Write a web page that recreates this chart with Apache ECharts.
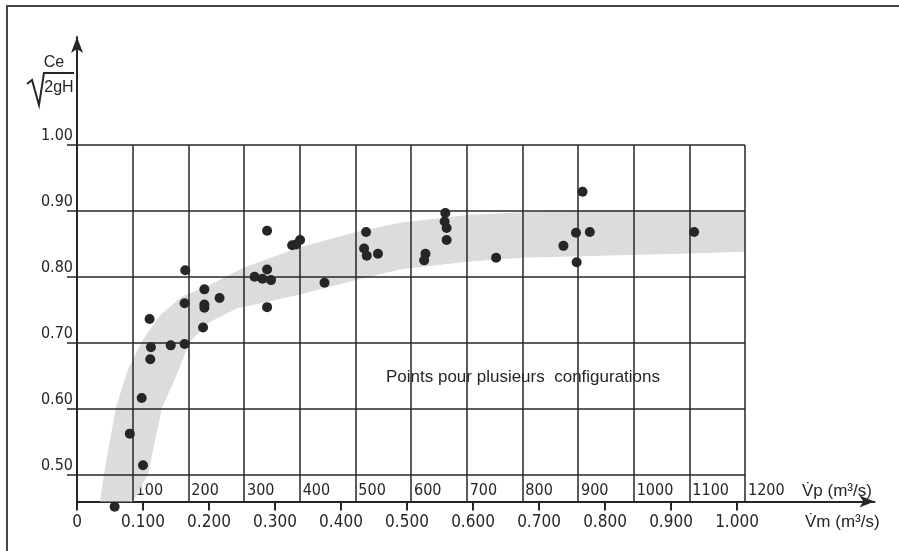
<!DOCTYPE html>
<html>
<head>
<meta charset="utf-8">
<script src="https://cdn.jsdelivr.net/npm/echarts@6/dist/echarts.min.js"></script>
<style>
  html, body { margin: 0; padding: 0; background: #fff; }
  #chart { width: 899px; height: 551px; }
</style>
</head>
<body>
<div id="chart"></div>
<script>
// axis ticks
const vmTicks = [0, 0.1, 0.2, 0.3, 0.4, 0.5, 0.6, 0.7, 0.8, 0.9, 1.0];
const vpTicks = [100, 200, 300, 400, 500, 600, 700, 800, 900, 1000, 1100, 1200];
const ceTicks = [0.5, 0.6, 0.7, 0.8, 0.9, 1.0];

// measured points [Vm (m3/s), Ce/sqrt(2gH)]
const points = [
  [0.057, 0.451], [0.080, 0.562], [0.098, 0.616], [0.100, 0.514],
  [0.110, 0.736], [0.112, 0.693], [0.111, 0.675], [0.142, 0.696],
  [0.163, 0.698], [0.164, 0.810], [0.163, 0.760], [0.193, 0.781],
  [0.193, 0.758], [0.193, 0.753], [0.191, 0.723], [0.216, 0.768],
  [0.269, 0.800], [0.281, 0.797], [0.294, 0.795], [0.288, 0.811],
  [0.288, 0.870], [0.288, 0.754], [0.326, 0.848], [0.332, 0.849],
  [0.338, 0.856], [0.375, 0.791], [0.438, 0.868], [0.435, 0.843],
  [0.439, 0.832], [0.456, 0.835], [0.528, 0.835], [0.526, 0.825],
  [0.558, 0.897], [0.557, 0.884], [0.560, 0.874], [0.560, 0.856],
  [0.635, 0.829], [0.737, 0.847], [0.757, 0.822], [0.756, 0.867],
  [0.766, 0.929], [0.777, 0.868], [0.935, 0.868]
];

// shaded band, upper-left edge and lower-right edge
const bandUpper = [
  [0.035, 0.459], [0.041, 0.502], [0.059, 0.602], [0.077, 0.659],
  [0.098, 0.702], [0.126, 0.742], [0.159, 0.770], [0.202, 0.788],
  [0.253, 0.814], [0.338, 0.845], [0.423, 0.868], [0.489, 0.882],
  [0.591, 0.894], [0.674, 0.898], [0.792, 0.901], [1.012, 0.901]
];
const bandLower = [
  [0.085, 0.459], [0.108, 0.502], [0.129, 0.602], [0.148, 0.644],
  [0.171, 0.702], [0.202, 0.732], [0.242, 0.752], [0.338, 0.773],
  [0.423, 0.795], [0.489, 0.811], [0.591, 0.823], [0.674, 0.829],
  [0.792, 0.832], [0.914, 0.835], [1.012, 0.838]
];

const ceMin = 0.459;
const ceMax = 1.164;
const vmMax = 1.2083;
const vpMax = 1432.6;

const ink = "#262626";
const narrow = "'Liberation Sans Narrow', 'DejaVu Sans Condensed', sans-serif";
const sans = "'Liberation Sans', Arial, sans-serif";

const chart = echarts.init(document.getElementById("chart"));

const gridLines = vpTicks
  .map((v) => [{ coord: [v, ceMin] }, { coord: [v, ceTicks[ceTicks.length - 1]] }])
  .concat(ceTicks.map((c) => [{ coord: [0, c] }, { coord: [vpTicks[vpTicks.length - 1], c] }]));

const option = {
  backgroundColor: "#fff",
  animation: false,
  grid: { left: 77, right: 24.5, top: 37, bottom: 49.5 },
  xAxis: [
    {
      type: "value",
      min: 0,
      max: vmMax,
      position: "bottom",
      splitLine: { show: false },
      axisLine: {
        show: true,
        onZero: false,
        symbol: ["none", "arrow"],
        symbolSize: [9, 15],
        lineStyle: { color: ink, width: 2 },
      },
      axisTick: {
        show: true,
        inside: false,
        length: 9,
        customValues: vmTicks,
        lineStyle: { color: ink, width: 2 },
      },
      axisLabel: {
        customValues: vmTicks,
        margin: 13,
        color: ink,
        fontFamily: narrow,
        fontSize: 17,
        formatter: (v) => (v === 0 ? "0" : v.toFixed(3)),
      },
    },
    {
      type: "value",
      min: 0,
      max: vpMax,
      position: "bottom",
      splitLine: { show: false },
      axisLine: { show: false },
      axisTick: { show: false },
      axisLabel: {
        customValues: vpTicks,
        inside: true,
        margin: 3,
        align: "left",
        verticalAlign: "bottom",
        padding: [0, 0, 0, 3],
        color: ink,
        fontFamily: narrow,
        fontSize: 16,
        formatter: (v) => String(v),
      },
    },
  ],
  yAxis: {
    type: "value",
    min: ceMin,
    max: ceMax,
    splitLine: { show: false },
    axisLine: {
      show: true,
      onZero: false,
      symbol: ["none", "arrow"],
      symbolSize: [9, 16],
      lineStyle: { color: ink, width: 2 },
    },
    axisTick: {
      show: true,
      inside: false,
      length: 10,
      customValues: ceTicks,
      lineStyle: { color: ink, width: 1.5 },
    },
    axisLabel: {
      customValues: ceTicks,
      margin: 4,
      verticalAlign: "bottom",
      padding: [0, 0, 1, 0],
      color: ink,
      fontFamily: narrow,
      fontSize: 16,
      formatter: (v) => v.toFixed(2),
    },
  },
  graphic: [
    {
      type: "rect",
      shape: { x: 7, y: 6, width: 905, height: 560 },
      style: { fill: "none", stroke: "#444", lineWidth: 2 },
      silent: true,
    },
    {
      type: "text",
      x: 54, y: 63,
      style: { text: "Ce", fontFamily: sans, fontSize: 16, fill: ink, align: "center", verticalAlign: "middle" },
    },
    {
      type: "polyline",
      shape: { points: [[27, 84], [32, 80], [39, 105], [44, 73], [74, 73]] },
      style: { stroke: ink, lineWidth: 2, fill: "none" },
    },
    {
      type: "text",
      x: 59, y: 88,
      style: { text: "2gH", fontFamily: sans, fontSize: 16, fill: ink, align: "center", verticalAlign: "middle" },
    },
    {
      type: "text",
      x: 523, y: 377,
      style: { text: "Points pour plusieurs  configurations", fontFamily: sans, fontSize: 17, fill: ink, align: "center", verticalAlign: "middle" },
    },
    {
      type: "text",
      x: 802, y: 491,
      style: { text: "V\u0307p (m\u00b3/s)", fontFamily: sans, fontSize: 17, fill: ink, align: "left", verticalAlign: "middle" },
    },
    {
      type: "text",
      x: 805, y: 522,
      style: { text: "V\u0307m (m\u00b3/s)", fontFamily: sans, fontSize: 17, fill: ink, align: "left", verticalAlign: "middle" },
    },
  ],
  series: [
    {
      name: "band",
      type: "custom",
      xAxisIndex: 0,
      silent: true,
      z: 1,
      clip: false,
      data: [bandUpper[0]],
      renderItem: (params, api) => {
        const pts = bandUpper.concat(bandLower.slice().reverse()).map((p) => api.coord(p));
        return {
          type: "polygon",
          shape: { points: pts },
          style: { fill: "#dcdcdc", stroke: "none" },
        };
      },
    },
    {
      name: "grid",
      type: "line",
      xAxisIndex: 1,
      data: [],
      z: 2,
      markLine: {
        silent: true,
        symbol: ["none", "none"],
        label: { show: false },
        lineStyle: { color: ink, width: 1.5, type: "solid" },
        emphasis: { disabled: true },
        data: gridLines,
      },
    },
    {
      name: "points",
      type: "scatter",
      xAxisIndex: 0,
      symbolSize: 10,
      clip: false,
      z: 5,
      itemStyle: { color: ink, opacity: 1 },
      data: points,
    },
  ],
};

chart.setOption(option);
</script>
</body>
</html>
